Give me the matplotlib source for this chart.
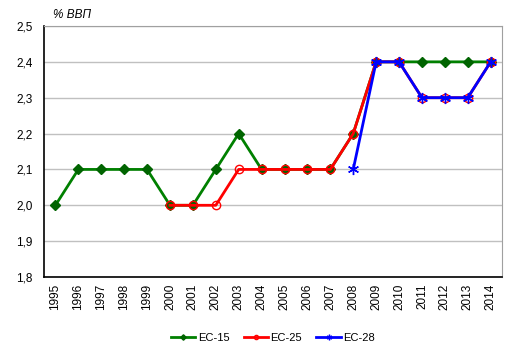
import matplotlib
matplotlib.use("Agg")
import matplotlib.pyplot as plt
import numpy as np

plt.rcParams['font.family'] = ['Liberation Sans', 'DejaVu Sans']

years = [str(y) for y in range(1995, 2015)]
ec15 = [2.0, 2.1, 2.1, 2.1, 2.1, 2.0, 2.0, 2.1, 2.2, 2.1,
        2.1, 2.1, 2.1, 2.2, 2.4, 2.4, 2.4, 2.4, 2.4, 2.4]
ec25 = [None] * 5 + [2.0, 2.0, 2.0, 2.1, 2.1,
                     2.1, 2.1, 2.1, 2.2, 2.4, 2.4, 2.3, 2.3, 2.3, 2.4]
ec28 = [None] * 13 + [2.1, 2.4, 2.4, 2.3, 2.3, 2.3, 2.4]
yticks = [1.8, 1.9, 2.0, 2.1, 2.2, 2.3, 2.4, 2.5]


def to_arr(vals):
    return np.array([np.nan if v is None else v for v in vals], dtype=float)


fig = plt.figure(figsize=(5.15, 3.55), dpi=100)
ax = fig.add_axes([0.0854, 0.2197, 0.8896, 0.7071])

x = np.arange(len(years))
l1, = ax.plot(x, to_arr(ec15), color='#008000', lw=2, marker='D', ms=5.5,
              mfc='#006400', mec='#006400', label='EC-15', zorder=3)
l2, = ax.plot(x, to_arr(ec25), color='#ff0000', lw=2, marker='o', ms=6,
              mfc='none', mec='#ff0000', mew=1, label='EC-25', zorder=4)
l3, = ax.plot(x, to_arr(ec28), color='#0000ff', lw=2, marker=(6, 2, 0), ms=8,
              mec='#0000ff', mew=1, label='EC-28', zorder=5)

ax.set_xlim(-0.5, len(years) - 0.5)
ax.set_ylim(1.8, 2.5)
ax.set_yticks(yticks)
ax.set_yticklabels([f"{v:.1f}".replace('.', ',') for v in yticks], fontsize=8.5)
ax.set_xticks(x)
ax.set_xticklabels(years, rotation=90, fontsize=8.5)
ax.tick_params(length=0, pad=5)
ax.tick_params(axis='y', pad=8)
ax.yaxis.grid(True, color='#c0c0c0', lw=1)
ax.set_axisbelow(True)
for s in ['top', 'right']:
    ax.spines[s].set_color('#a0a0a0')
for s in ['left', 'bottom']:
    ax.spines[s].set_color('black')
    ax.spines[s].set_linewidth(1.2)

fig.text(0.103, 0.958, '% ВВП', fontsize=8.5, style='italic', va='center')

fig.legend(handles=[l1, l2, l3], loc='center', bbox_to_anchor=(0.53, 0.048),
           ncol=3, frameon=False, fontsize=8, markerscale=0.5,
           handlelength=2.2, handletextpad=0.2, columnspacing=1.3)

fig.savefig('out.png', dpi=100)
